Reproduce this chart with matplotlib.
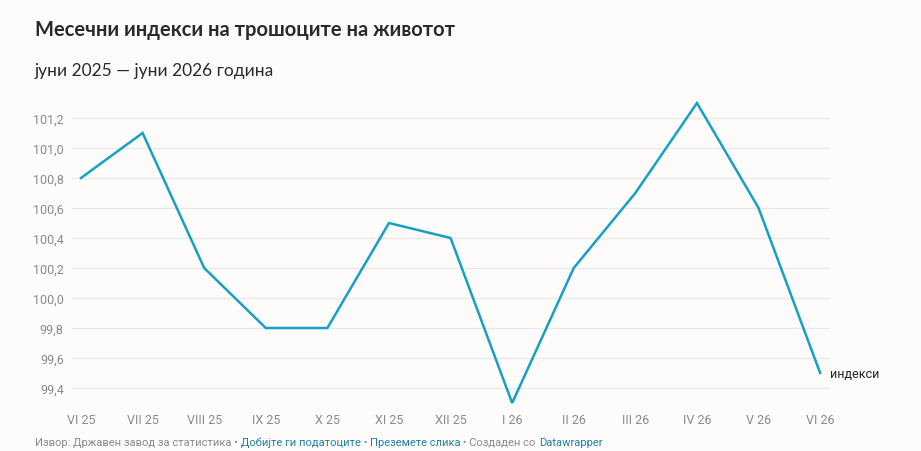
import matplotlib
matplotlib.use("Agg")
import matplotlib.pyplot as plt

months = ["VI 25", "VII 25", "VIII 25", "IX 25", "X 25", "XI 25", "XII 25",
          "I 26", "II 26", "III 26", "IV 26", "V 26", "VI 26"]
index_values = [100.8, 101.1, 100.2, 99.8, 99.8, 100.5, 100.4,
                99.3, 100.2, 100.7, 101.3, 100.6, 99.5]
y_ticks = [99.4, 99.6, 99.8, 100.0, 100.2, 100.4, 100.6, 100.8, 101.0, 101.2]
series_label = "индекси"

BG = "#fdfcfa"
LINE = "#17a0c4"
GRID = "#ebe9e6"
TICK = "#8a8a8a"

W, H = 921, 452
fig = plt.figure(figsize=(W / 100, H / 100), dpi=100, facecolor=BG)
ax = fig.add_axes([72 / W, 1 - 411.5 / H, (830 - 72) / W, (411.5 - 96.5) / H])
ax.set_facecolor(BG)

x = list(range(len(months)))
ax.plot(x, index_values, color=LINE, lw=1.8, solid_joinstyle="miter", zorder=3, clip_on=False)

ax.set_xlim(-0.146, 12.16)
ax.set_ylim(99.25, 101.35)
ax.set_yticks(y_ticks)
ax.set_yticklabels([f"{v:.1f}".replace(".", ",") for v in y_ticks])
ax.set_xticks(x)
ax.set_xticklabels(months)
for s in ax.spines.values():
    s.set_visible(False)
ax.grid(axis="y", color=GRID, lw=1)
ax.set_axisbelow(True)
ax.tick_params(axis="both", length=0, colors=TICK, labelsize=9)
ax.tick_params(axis="y", pad=6)
ax.tick_params(axis="x", pad=2)
for lab in ax.get_xticklabels() + ax.get_yticklabels():
    lab.set_fontfamily("Roboto")
    lab.set_color(TICK)

ax.annotate(series_label, xy=(x[-1], index_values[-1]), xytext=(7, 0),
            textcoords="offset points", va="center", ha="left",
            fontsize=9, family="Roboto", color="#222222", annotation_clip=False)

fig.text(35 / W, 1 - 30 / H, "Месечни индекси на трошоците на животот",
         fontsize=14.5, fontweight="bold", family="Lato", color="#2a2a2a",
         va="center", ha="left")
fig.text(35 / W, 1 - 71 / H, "јуни 2025 — јуни 2026 година",
         fontsize=12.5, family="Lato", color="#2a2a2a", va="center", ha="left")

# footer (chained pieces with different colours)
parts = [("Извор: Државен завод за статистика • ", "#8a8a8a"),
         ("Добијте ги податоците", "#1d81a2"),
         (" • ", "#8a8a8a"),
         ("Преземете слика", "#1d81a2"),
         (" • Создаден со ", "#8a8a8a"),
         ("Datawrapper", "#1d81a2")]
prev = fig.text(35 / W, 1 - 446 / H, parts[0][0], fontsize=8, family="Roboto",
                color=parts[0][1], va="baseline", ha="left")
for txt, col in parts[1:]:
    prev = ax.annotate(txt, xy=(1, 0), xycoords=prev, va="bottom", ha="left",
                       fontsize=8, family="Roboto", color=col, annotation_clip=False)

fig.savefig("out.png", dpi=100, facecolor=BG)
